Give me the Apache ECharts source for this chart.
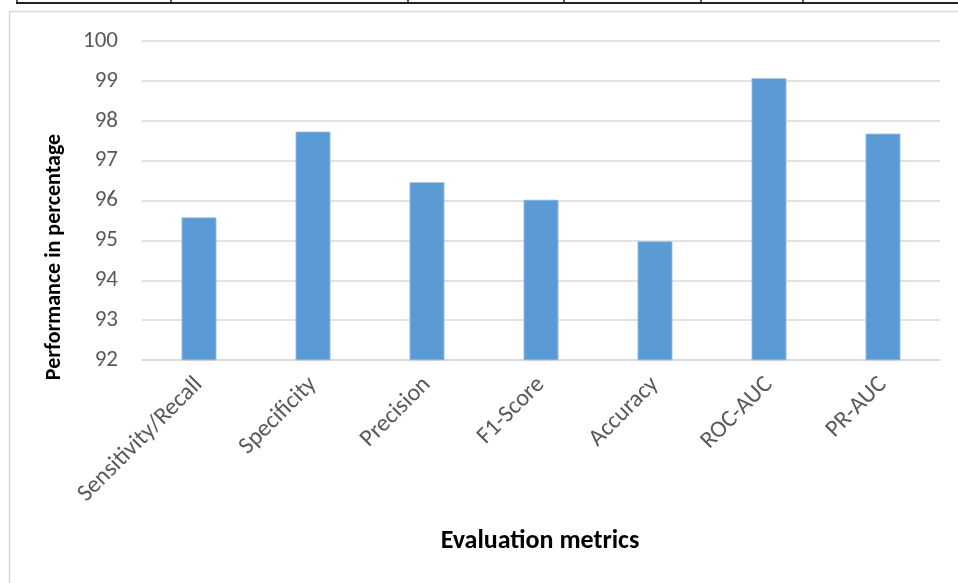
<!DOCTYPE html>
<html>
<head>
<meta charset="utf-8">
<script src="https://cdn.jsdelivr.net/npm/echarts@6/dist/echarts.min.js"></script>
<style>
  html, body { margin: 0; padding: 0; background: #fff; }
  #chart { width: 958px; height: 583px; }
</style>
</head>
<body>
<div id="chart"></div>
<script>
// Evaluation metrics of the classifier (percent)
const metrics = ['Sensitivity/Recall', 'Specificity', 'Precision', 'F1-Score', 'Accuracy', 'ROC-AUC', 'PR-AUC'];
const scores = [95.58, 97.73, 96.46, 96.02, 94.98, 99.07, 97.68];
const yTicks = [92, 93, 94, 95, 96, 97, 98, 99, 100];

// Column dividers of the table row sitting above the chart frame
const tableDividers = [17, 171, 408, 564, 701, 803];

const chart = echarts.init(document.getElementById('chart'));

const fontFamily = 'Carlito, "Open Sans", "Liberation Sans", sans-serif';

const graphics = [
  // chart frame
  { type: 'rect', shape: { x: 9.5, y: 11.5, width: 1000, height: 1000 },
    style: { fill: 'none', stroke: '#d9d9d9', lineWidth: 1.5 }, z: 0 },
  // table bottom rule
  { type: 'line', shape: { x1: 16, y1: 3, x2: 958, y2: 3 },
    style: { stroke: '#222', lineWidth: 2 } },
  { type: 'text', x: 54, y: 257, rotation: Math.PI / 2,
    style: { text: 'Performance in percentage', fill: '#000',
      font: 'bold 22px ' + fontFamily, textAlign: 'center', textVerticalAlign: 'middle' } },
  { type: 'text', x: 540, y: 541,
    style: { text: 'Evaluation metrics', fill: '#000',
      font: 'bold 26px ' + fontFamily, textAlign: 'center', textVerticalAlign: 'middle' } }
];
tableDividers.forEach(function (x) {
  graphics.push({ type: 'line', shape: { x1: x, y1: 0, x2: x, y2: 3 },
    style: { stroke: '#222', lineWidth: 1.5 } });
});

chart.setOption({
  animation: false,
  backgroundColor: '#fff',
  grid: { left: 142, right: 18, top: 41, bottom: 223, containLabel: false },
  xAxis: {
    type: 'category',
    data: metrics,
    axisTick: { show: false },
    axisLine: { show: true, lineStyle: { color: '#d9d9d9', width: 1.5 } },
    axisLabel: { rotate: 45, color: '#595959', fontSize: 24, fontFamily: fontFamily, margin: 21, interval: 0 }
  },
  yAxis: {
    type: 'value',
    min: yTicks[0],
    max: yTicks[yTicks.length - 1],
    interval: 1,
    axisLine: { show: false },
    axisTick: { show: false },
    splitLine: { lineStyle: { color: '#d9d9d9', width: 1.5 } },
    axisLabel: { color: '#595959', fontSize: 23, fontFamily: fontFamily, margin: 24 }
  },
  series: [{
    type: 'bar',
    data: scores,
    barWidth: 35,
    itemStyle: { color: '#5b9bd5', borderColor: '#a9c9ea', borderWidth: 0.8 }
  }],
  graphic: graphics
});
</script>
</body>
</html>
